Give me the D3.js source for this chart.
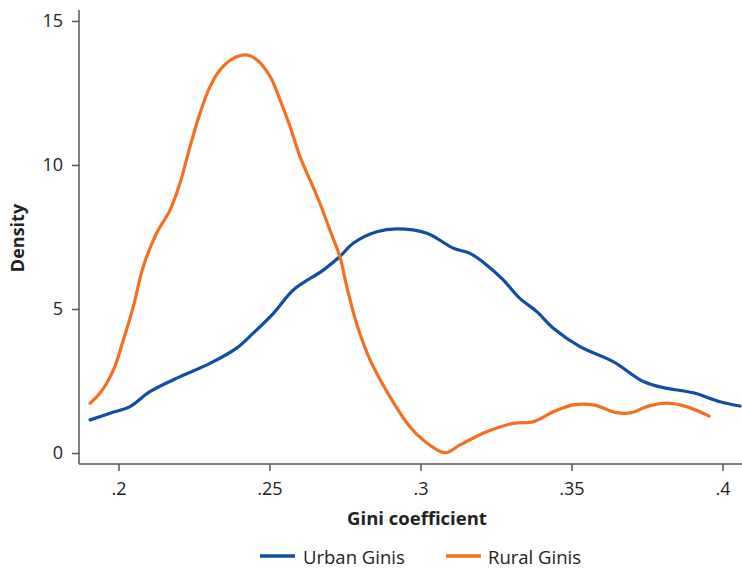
<!DOCTYPE html>
<html><head><meta charset="utf-8">
<script src="https://cdn.jsdelivr.net/npm/d3@7"></script>
<style>body{margin:0;background:#fff}svg{display:block}text{font-family:"Open Sans",sans-serif}</style>
</head><body><svg id="c" width="742" height="568"></svg>
<script>
const xTicks = [0.2, 0.25, 0.3, 0.35, 0.4];
const xTickLabels = [".2", ".25", ".3", ".35", ".4"];
const yTicks = [0, 5, 10, 15];
const seriesNames = ["Urban Ginis", "Rural Ginis"];

const urbanX = [0.1906,0.1972,0.2038,0.2104,0.2204,0.2303,0.2391,0.2446,0.2513,0.2579,0.2678,0.2733,0.2777,0.2855,0.2921,0.3021,0.3109,0.3164,0.3219,0.3274,0.3329,0.3385,0.3440,0.3528,0.3638,0.3738,0.3804,0.3903,0.3992,0.4058];
const urbanY = [1.15,1.38,1.61,2.13,2.65,3.11,3.64,4.16,4.85,5.66,6.35,6.82,7.28,7.68,7.78,7.63,7.11,6.93,6.53,6.01,5.37,4.91,4.33,3.69,3.17,2.48,2.27,2.09,1.78,1.63];

const ruralX = [0.1906,0.1939,0.1983,0.2016,0.2049,0.2082,0.2126,0.2171,0.2204,0.2237,0.2270,0.2303,0.2336,0.2380,0.2424,0.2458,0.2502,0.2535,0.2568,0.2601,0.2634,0.2667,0.2700,0.2733,0.2756,0.2789,0.2833,0.2899,0.2965,0.3009,0.3081,0.3131,0.3219,0.3307,0.3374,0.3440,0.3506,0.3572,0.3650,0.3699,0.3749,0.3815,0.3881,0.3956];
const ruralY = [1.73,2.08,2.88,3.92,5.08,6.47,7.63,8.44,9.38,10.64,11.80,12.72,13.30,13.70,13.82,13.65,13.07,12.26,11.33,10.29,9.48,8.67,7.74,6.82,5.77,4.48,3.23,1.95,0.91,0.45,0.01,0.28,0.74,1.03,1.09,1.43,1.67,1.67,1.40,1.40,1.61,1.73,1.61,1.28];

const colors = ["#0f4fa3", "#f36f21"];

const svg = d3.select("#c");
const L = 79, R = 742, T = 10, B = 464;
const x = d3.scaleLinear().domain([0.18692, 0.40646]).range([L, R]);
const y = d3.scaleLinear().domain([-0.382, 15.38]).range([B, T]);

const axisColor = "#555";
const fs = "18px";
// Y axis
const ya = svg.append("g").attr("transform", `translate(${L},0)`)
  .call(d3.axisLeft(y).tickValues(yTicks).tickSize(7).tickPadding(9).tickFormat(d3.format("d")));
ya.select(".domain").attr("d", `M0,${T}V${B}`);
// X axis
const xa = svg.append("g").attr("transform", `translate(0,${B})`)
  .call(d3.axisBottom(x).tickValues(xTicks).tickSize(7).tickPadding(11).tickFormat((d,i)=>xTickLabels[i]));
xa.select(".domain").attr("d", `M${L},0H${R}`);
[ya, xa].forEach(g => {
  g.selectAll("path,line").attr("stroke", axisColor).attr("stroke-width", 1.5);
  g.selectAll("text").attr("fill", "#222").style("font-size", fs).style("font-family", '"Open Sans",sans-serif');
});

const line = d3.line().x(d => x(d[0])).y(d => y(d[1])).curve(d3.curveCatmullRom);
const urban = urbanX.map((v,i)=>[v, urbanY[i]]);
const rural = ruralX.map((v,i)=>[v, ruralY[i]]);
svg.append("path").datum(urban).attr("d", line).attr("fill","none").attr("stroke",colors[0]).attr("stroke-width",3.2).attr("stroke-linecap","round");
svg.append("path").datum(rural).attr("d", line).attr("fill","none").attr("stroke",colors[1]).attr("stroke-width",3.2).attr("stroke-linecap","round");

// Axis titles
svg.append("text").attr("x", 417).attr("y", 525).attr("text-anchor","middle")
  .style("font-size","18.5px").style("font-weight","bold").attr("fill","#222").text("Gini coefficient");
svg.append("text").attr("transform","translate(24,238) rotate(-90)").attr("text-anchor","middle")
  .style("font-size","18px").style("font-weight","bold").attr("fill","#222").text("Density");

// Legend
const leg = [{x1:260,x2:295,tx:303},{x1:446,x2:481,tx:488}];
leg.forEach((l,i)=>{
  svg.append("line").attr("x1",l.x1).attr("x2",l.x2).attr("y1",556).attr("y2",556).attr("stroke",colors[i]).attr("stroke-width",3.5);
  svg.append("text").attr("x",l.tx).attr("y",564).style("font-size","18.5px").attr("fill","#222").text(seriesNames[i]);
});
</script></body></html>
